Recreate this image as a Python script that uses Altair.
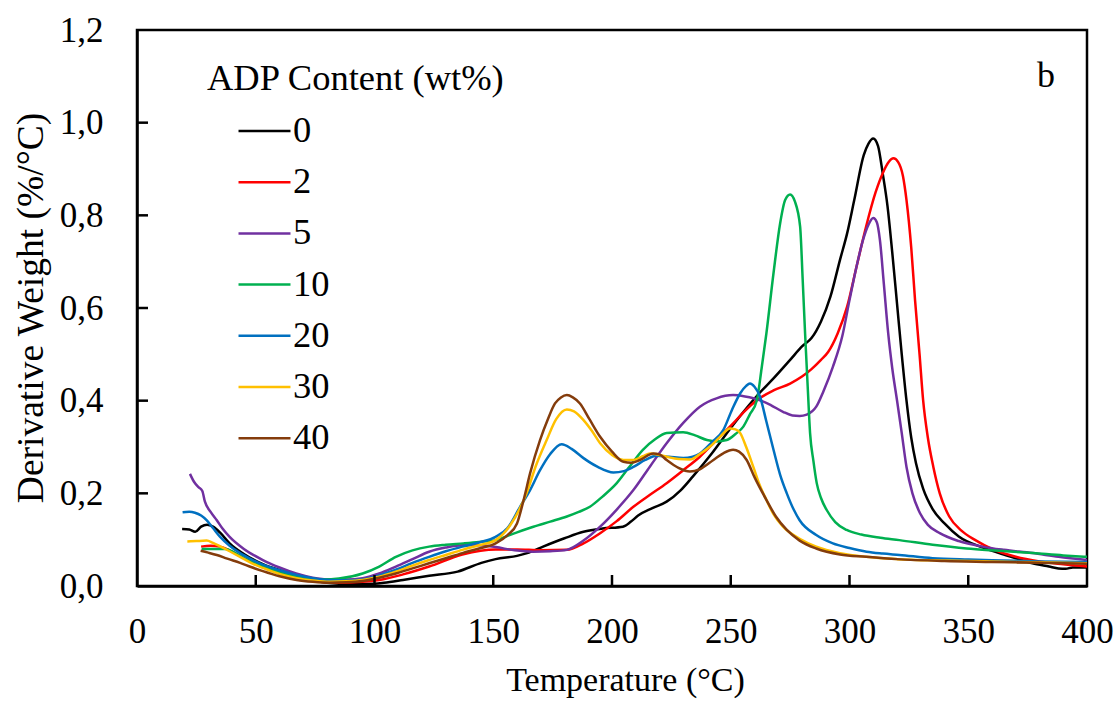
import altair as alt
import pandas as pd

series_names = ["0", "2", "5", "10", "20", "30", "40"]
series_colors = ["#000000", "#FF0000", "#7030A0", "#00B050", "#0070C0", "#FFC000", "#843C0C"]

x0 = [19, 22, 24.5, 27, 29.5, 32, 35, 39, 45, 53, 62, 72, 80, 90, 100, 104, 112, 123, 135, 145, 151, 160, 165, 171, 180, 188, 196, 204.6, 208, 211, 217, 223, 229, 234, 242, 250, 256, 262, 268, 275, 280, 284, 288, 292, 296, 299, 302, 306, 308, 310, 312, 314, 316, 318, 320, 322, 324, 326, 328, 331, 335, 340, 346, 355, 363, 370, 377, 384, 388, 391, 394, 400]
y0 = [0.123, 0.122, 0.117, 0.128, 0.132, 0.128, 0.115, 0.092, 0.069, 0.047, 0.031, 0.014, 0.007, 0.004, 0.005, 0.007, 0.013, 0.022, 0.031, 0.050, 0.058, 0.065, 0.072, 0.085, 0.103, 0.117, 0.124, 0.128, 0.139, 0.152, 0.168, 0.182, 0.207, 0.236, 0.286, 0.341, 0.380, 0.416, 0.448, 0.488, 0.517, 0.535, 0.571, 0.625, 0.704, 0.761, 0.833, 0.930, 0.955, 0.966, 0.950, 0.890, 0.820, 0.720, 0.610, 0.500, 0.400, 0.320, 0.265, 0.210, 0.166, 0.135, 0.107, 0.085, 0.071, 0.060, 0.049, 0.042, 0.038, 0.037, 0.040, 0.040]

x2 = [27, 31, 35, 39, 45, 53, 62, 72, 84, 95, 102, 112, 123, 137, 151, 160, 170, 181, 188, 195, 202, 209, 216, 223, 230, 237, 244, 251, 256, 261, 268, 275, 280, 284, 288, 291, 295, 299, 303, 307, 311, 314, 316.5, 318.5, 320.5, 322.5, 324, 326, 327.6, 329.5, 331, 333, 335.3, 338, 342, 347, 353, 360, 370, 380, 390, 400]
y2 = [0.085, 0.087, 0.085, 0.077, 0.060, 0.042, 0.025, 0.013, 0.007, 0.009, 0.013, 0.025, 0.042, 0.068, 0.079, 0.079, 0.077, 0.078, 0.092, 0.114, 0.140, 0.171, 0.197, 0.222, 0.250, 0.279, 0.315, 0.351, 0.378, 0.401, 0.422, 0.437, 0.452, 0.468, 0.488, 0.505, 0.545, 0.603, 0.690, 0.776, 0.850, 0.891, 0.915, 0.923, 0.915, 0.885, 0.833, 0.730, 0.617, 0.500, 0.401, 0.320, 0.257, 0.200, 0.150, 0.120, 0.099, 0.080, 0.063, 0.053, 0.047, 0.042]

x5 = [22.3, 24, 26, 27.5, 28.6, 31, 33.6, 36, 39, 45, 53, 60, 67, 74, 81, 88, 95, 102, 109, 116, 123, 130, 137, 144, 151, 159, 166.8, 174, 181, 188, 195, 202, 209, 216, 223, 230, 237, 244, 251, 256, 262.3, 267, 272, 276, 279, 282, 286, 289, 293, 297, 300, 303, 305.7, 308, 310, 311.5, 312.8, 314.5, 316.3, 318, 320, 322, 324, 326.5, 329.7, 333, 338, 346, 356, 365, 377, 388, 400]
y5 = [0.242, 0.225, 0.213, 0.205, 0.182, 0.160, 0.142, 0.124, 0.106, 0.080, 0.056, 0.040, 0.027, 0.018, 0.014, 0.014, 0.017, 0.027, 0.042, 0.058, 0.074, 0.083, 0.088, 0.088, 0.084, 0.077, 0.074, 0.075, 0.078, 0.098, 0.128, 0.165, 0.207, 0.258, 0.308, 0.352, 0.387, 0.405, 0.412, 0.409, 0.401, 0.390, 0.376, 0.368, 0.367, 0.370, 0.387, 0.420, 0.473, 0.540, 0.617, 0.690, 0.747, 0.780, 0.794, 0.785, 0.747, 0.650, 0.545, 0.470, 0.401, 0.330, 0.257, 0.200, 0.157, 0.132, 0.114, 0.097, 0.085, 0.078, 0.071, 0.063, 0.056]

x10 = [27.2, 32, 37.5, 41, 45, 53, 60, 67, 74, 78.5, 85, 95, 102, 109, 116, 123, 130, 137.4, 144, 151, 158, 166.9, 174, 181, 186, 190.7, 196, 202, 207, 213, 218, 223, 230, 235, 240, 244, 248.3, 252, 255.3, 258, 261, 263, 265, 268, 270.8, 272.9, 275, 277, 279.2, 280.3, 281.3, 282.4, 283.4, 284.8, 286.2, 288, 290.4, 294, 298.8, 305, 313, 321, 335, 349.3, 363, 377.4, 390, 400]
y10 = [0.080, 0.080, 0.080, 0.072, 0.060, 0.042, 0.030, 0.021, 0.016, 0.014, 0.016, 0.027, 0.042, 0.063, 0.077, 0.085, 0.089, 0.092, 0.095, 0.099, 0.112, 0.128, 0.139, 0.150, 0.160, 0.171, 0.193, 0.222, 0.255, 0.294, 0.316, 0.330, 0.332, 0.325, 0.315, 0.312, 0.315, 0.328, 0.344, 0.370, 0.401, 0.470, 0.545, 0.675, 0.783, 0.833, 0.845, 0.830, 0.776, 0.660, 0.545, 0.430, 0.330, 0.270, 0.222, 0.190, 0.164, 0.138, 0.121, 0.111, 0.104, 0.099, 0.089, 0.081, 0.076, 0.071, 0.066, 0.063]

x20 = [19.2, 22, 24.4, 27, 29.3, 32, 35, 39, 43.4, 48, 53, 60, 67.2, 74, 81, 88, 95, 102, 109, 116, 123, 130, 137, 144, 151, 156, 161.3, 165.5, 169.7, 174, 178.8, 183, 188, 194, 200.6, 205, 209, 214, 218.8, 224, 230, 234, 237, 242, 246.9, 250.5, 254, 256.5, 258.1, 260, 262.3, 265, 268, 270.8, 273.6, 276.5, 279, 286, 293, 300, 307.2, 314, 321, 335, 350, 365, 380, 400]
y20 = [0.159, 0.160, 0.158, 0.152, 0.142, 0.125, 0.106, 0.087, 0.071, 0.058, 0.046, 0.034, 0.024, 0.017, 0.013, 0.012, 0.014, 0.023, 0.035, 0.050, 0.063, 0.075, 0.085, 0.094, 0.106, 0.125, 0.171, 0.207, 0.250, 0.285, 0.306, 0.296, 0.276, 0.257, 0.245, 0.248, 0.257, 0.272, 0.281, 0.279, 0.276, 0.279, 0.286, 0.310, 0.337, 0.380, 0.416, 0.432, 0.437, 0.430, 0.409, 0.355, 0.294, 0.240, 0.200, 0.165, 0.142, 0.110, 0.092, 0.082, 0.074, 0.070, 0.067, 0.060, 0.057, 0.055, 0.053, 0.052]

x30 = [21.2, 25, 29.3, 32, 34.8, 39, 43.4, 48, 53, 60, 67.2, 74, 81, 88, 95, 102, 109, 116, 123, 130, 137, 144, 151, 157, 164, 168, 172.5, 176.5, 181, 184, 188, 191.5, 195, 200, 204.8, 209, 213, 216, 219, 223, 228, 232.8, 237, 241.3, 245.5, 249.7, 252, 254, 256.5, 259.5, 262, 265, 268, 272, 279, 286, 296, 307, 320, 340, 360, 380, 400]
y30 = [0.096, 0.097, 0.098, 0.093, 0.086, 0.075, 0.063, 0.050, 0.039, 0.026, 0.017, 0.012, 0.009, 0.010, 0.013, 0.020, 0.031, 0.044, 0.056, 0.067, 0.078, 0.088, 0.099, 0.130, 0.200, 0.260, 0.315, 0.360, 0.381, 0.377, 0.358, 0.335, 0.308, 0.283, 0.272, 0.272, 0.280, 0.286, 0.284, 0.279, 0.274, 0.273, 0.285, 0.301, 0.322, 0.340, 0.338, 0.330, 0.300, 0.257, 0.220, 0.186, 0.155, 0.128, 0.102, 0.085, 0.071, 0.063, 0.058, 0.055, 0.053, 0.051, 0.049]

x40 = [26.8, 30, 33.6, 38, 43.4, 48, 53, 60, 67.2, 74, 81, 88, 95, 102, 109, 116, 123, 130, 137, 144, 151, 156, 160, 163, 165.5, 169.7, 173, 176, 178.5, 181, 183.5, 186.5, 190.5, 195, 200, 204.8, 208, 211.8, 217.4, 220, 223, 228, 232.8, 237, 242.7, 247, 251, 253.5, 256.7, 260, 265, 269, 273.6, 279, 286, 296, 307, 320, 340, 360, 380, 400]
y40 = [0.076, 0.072, 0.067, 0.059, 0.050, 0.041, 0.032, 0.021, 0.013, 0.009, 0.007, 0.008, 0.011, 0.018, 0.027, 0.038, 0.049, 0.060, 0.071, 0.081, 0.092, 0.110, 0.135, 0.190, 0.243, 0.315, 0.360, 0.394, 0.407, 0.412, 0.407, 0.394, 0.360, 0.322, 0.290, 0.268, 0.266, 0.272, 0.286, 0.284, 0.272, 0.255, 0.247, 0.252, 0.272, 0.287, 0.294, 0.290, 0.272, 0.235, 0.186, 0.150, 0.121, 0.098, 0.081, 0.068, 0.063, 0.058, 0.054, 0.052, 0.050, 0.048]

x_ticks = [0, 50, 100, 150, 200, 250, 300, 350, 400]
y_ticks = [0.0, 0.2, 0.4, 0.6, 0.8, 1.0, 1.2]

xs = [x0, x2, x5, x10, x20, x30, x40]
ys = [y0, y2, y5, y10, y20, y30, y40]
rows = []
for name, xx, yy in zip(series_names, xs, ys):
    for a, b in zip(xx, yy):
        rows.append({"T": a, "D": b, "ADP": name})
df = pd.DataFrame(rows)

FONT = "'Liberation Serif', 'Times New Roman', 'DejaVu Serif', serif"
W, H = 950, 556

xscale = alt.Scale(domain=[0, 400], nice=False)
yscale = alt.Scale(domain=[0, 1.2], nice=False)

lines = alt.Chart(df).mark_line(strokeWidth=2.5, interpolate="monotone").encode(
    x=alt.X("T:Q", scale=xscale,
            axis=alt.Axis(values=x_ticks, title="Temperature (°C)", ticks=False, tickSize=0,
                          domain=True, domainColor="black", domainWidth=2.5, grid=False,
                          labelFont=FONT, labelFontSize=35,
                          labelColor="black", labelBaseline="alphabetic", labelPadding=56,
                          titleFont=FONT, titleFontSize=34, titleFontWeight="normal",
                          titleColor="black", titleBaseline="alphabetic", titleX=488, titleY=104,
                          labelFlush=False)),
    y=alt.Y("D:Q", scale=yscale,
            axis=alt.Axis(values=y_ticks, title="Derivative Weight (%/°C)", ticks=False, tickSize=0,
                          domain=True, domainColor="black", domainWidth=2.5, grid=False,
                          labelFont=FONT, labelFontSize=35,
                          labelColor="black", labelPadding=34,
                          labelExpr="replace(format(datum.value, '.1f'), '.', ',')",
                          titleFont=FONT, titleFontSize=37.5, titleFontWeight="normal",
                          titleColor="black", titleBaseline="alphabetic", titleX=-95, titleY=277.5,
                          titleAngle=270, labelFlush=False)),
    color=alt.Color("ADP:N", scale=alt.Scale(domain=series_names, range=series_colors),
                    sort=series_names,
                    legend=alt.Legend(title="ADP Content (wt%)", orient="none", legendX=70, legendY=31,
                                      symbolType="stroke", symbolStrokeWidth=2.5, symbolSize=2700,
                                      symbolOffset=30, labelOffset=1, rowPadding=5.2,
                                      labelFont=FONT, labelFontSize=36.5, labelColor="black",
                                      titleFont=FONT, titleFontSize=36.5, titleFontWeight="normal",
                                      titleColor="black", titlePadding=6, labelLimit=300, titleLimit=500)),
    order=alt.Order("ADP:N"),
)

xt = pd.DataFrame({"t": x_ticks[1:-1]})
yt = pd.DataFrame({"t": y_ticks[1:-1]})
xtick_marks = alt.Chart(xt).mark_rule(color="black", strokeWidth=2.5).encode(
    x=alt.X("t:Q", scale=xscale), y=alt.value(H), y2=alt.value(H - 11))
ytick_marks = alt.Chart(yt).mark_rule(color="black", strokeWidth=2.5).encode(
    y=alt.Y("t:Q", scale=yscale), x=alt.value(0), x2=alt.value(11))

label_b = alt.Chart(pd.DataFrame({"s": ["b"]})).mark_text(
    font=FONT, fontSize=36, color="black", align="center", baseline="alphabetic").encode(
    text="s:N", x=alt.value(909), y=alt.value(57))

chart = alt.layer(lines, xtick_marks, ytick_marks, label_b).properties(
    width=W, height=H,
    background="white",
    autosize=alt.AutoSizeParams(type="none"),
    padding={"left": 137, "top": 30, "right": 30, "bottom": 116},
).configure_view(stroke="black", strokeWidth=2.5)

chart.save("out.html", embed_options={"renderer": "svg", "actions": False})
